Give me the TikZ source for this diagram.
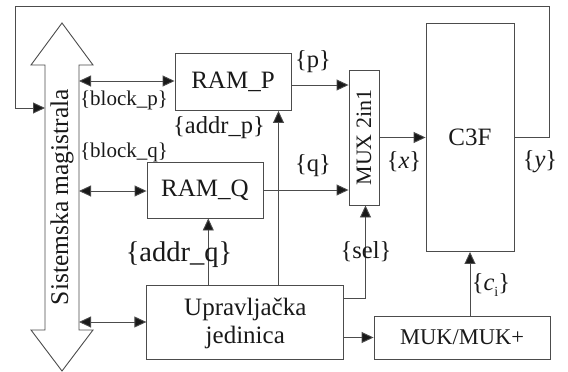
\documentclass[tikz,border=0pt]{standalone}
\usepackage{fontspec}
\setmainfont{Liberation Serif}
\usetikzlibrary{arrows.meta,calc}
\begin{document}
\begin{tikzpicture}[x=1pt,y=-1pt,
  ln/.style={draw=black!70,line width=0.9pt},
  arr/.style={ln,-{Triangle[length=12pt,width=11pt,fill=black!90]}},
  darr/.style={ln,{Triangle[length=12pt,width=11pt,fill=black!90]}-{Triangle[length=12pt,width=11pt,fill=black!90]}},
  blk/.style={draw=black!70,line width=0.9pt,inner sep=0pt,text=black!90,font=\fontsize{25}{27}\selectfont},
  lbl/.style={inner sep=0pt,text=black!90,font=\fontsize{24.5}{26}\selectfont},
  slbl/.style={inner sep=0pt,text=black!90,font=\fontsize{21}{23}\selectfont}]
\useasboundingbox (0,0) rectangle (568,372);
% system bus arrow
\draw[ln,fill=white] (62,23) -- (93,65) -- (79,65) -- (79,330) -- (93,330) -- (62,371) -- (31,330) -- (45,330) -- (45,65) -- (31,65) -- cycle;
\node[rotate=90,lbl,font=\fontsize{25.5}{27}\selectfont] (busT) at (62,197) {Sistemska magistrala};
\coordinate (busP) at (79,81);
\coordinate (busQ) at (79,191);
\coordinate (busU) at (79,322);
\coordinate (busL) at (45,108);
% blocks
\node[blk,minimum width=116,minimum height=57] (RP) at (233,82) {RAM\_P};
\node[blk,minimum width=116,minimum height=56] (RQ) at (205,190) {RAM\_Q};
\node[blk,minimum width=30,minimum height=135] (MUX) at (364,137.5) {};
\node[rotate=90,inner sep=0pt,text=black!90,font=\fontsize{22}{24}\selectfont] (muxT) at (364,137.5) {MUX 2in1};
\node[blk,minimum width=88,minimum height=228] (C3F) at (470,137.5) {C3F};
\node[blk,minimum width=197,minimum height=74] (UJ) at (245.3,322) {};
\node[inner sep=0pt,align=center,text=black!90,font=\fontsize{25}{28}\selectfont] (UJt) at (245.3,323.5) {Upravljačka\\jedinica};
\node[blk,minimum width=176,minimum height=43,font=\fontsize{22.5}{24}\selectfont] (MUK) at (462,337.5) {MUK/MUK+};
% connectors
\draw[darr] (busP) -- (RP.west |- busP);
\draw[darr] (busQ) -- (RQ.west |- busQ);
\draw[darr] (busU) -- (UJ.west |- busU);
\coordinate (rpo) at (291,85);
\draw[arr] (rpo) -- (MUX.west |- rpo);
\draw[arr] (RQ.east) -- (MUX.west |- RQ.east);
\draw[arr] (MUX.east) -- (C3F.west);
\coordinate (aq) at (208.3,285);
\draw[arr] (aq) -- (RQ.south -| aq);
\coordinate (ap) at (278.5,285);
\draw[arr] (ap) -- (RP.south -| ap);
\coordinate (selA) at (344,298.3);
\coordinate (selB) at (365.5,298.3);
\draw[arr] (selA) -- (selB) -- (MUX.south -| selB);
\draw[arr] (UJ.east |- MUK.west) -- (MUK.west);
\draw[arr] (C3F.south |- MUK.north) -- (C3F.south);
\coordinate (fb1) at (549,137.5);
\coordinate (fb2) at (549,6);
\coordinate (fb3) at (15,6);
\coordinate (fb4) at (15,108);
\draw[arr] (C3F.east) -- (fb1) -- (fb2) -- (fb3) -- (fb4) -- (busL);
% labels
\node[slbl] (lbp) at (124,100) {\{block\_p\}};
\node[slbl] (lbq) at (124,152) {\{block\_q\}};
\node[lbl] (lap) at (219,128) {\{addr\_p\}};
\node[lbl,font=\fontsize{28.5}{30}\selectfont] (laq) at (179,255) {\{addr\_q\}};
\node[lbl] (lp) at (313,62) {\{p\}};
\node[lbl] (lq) at (313,166) {\{q\}};
\node[lbl] (lx) at (404,162) {\{\textit{x}\}};
\node[lbl] (ly) at (540,162) {\{\textit{y}\}};
\node[lbl] (lsel) at (366,252) {\{sel\}};
\node[lbl] (lc) at (491,285) {\{\textit{c}\raisebox{-0.25em}{\fontsize{14}{14}\selectfont i}\}};
\end{tikzpicture}
\end{document}
